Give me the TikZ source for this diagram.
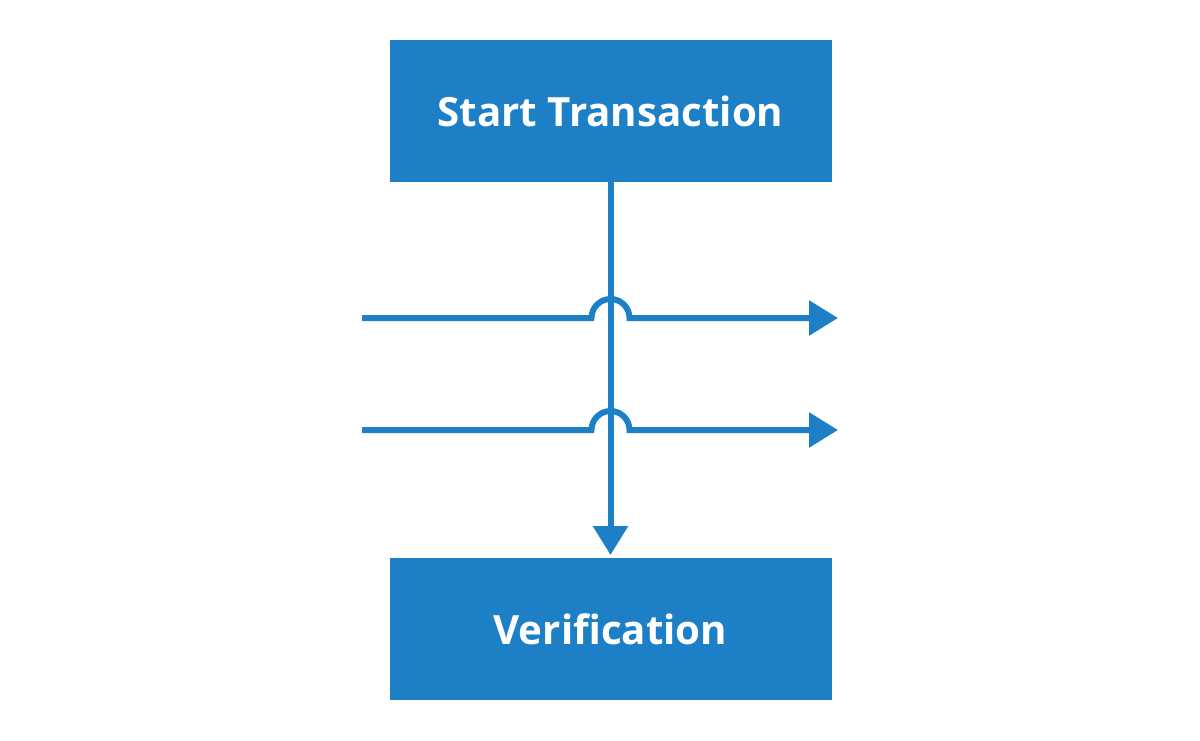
\documentclass[tikz,border=0pt]{standalone}
\usepackage{fontspec}
\setmainfont{Open Sans}
\usetikzlibrary{arrows.meta}
\usetikzlibrary{calc}
\usetikzlibrary{positioning}
\definecolor{flowblue}{HTML}{1D80C6}

\begin{document}
\begin{tikzpicture}[x=0.75pt, y=-0.75pt, >={Triangle[length=21.75pt,width=25.5pt]}]
\tikzset{
  box/.style={fill=flowblue, text=white, font=\bfseries\fontsize{30.2}{36}\selectfont,
    minimum width=331.5pt, minimum height=106.5pt, inner sep=0pt, outer sep=0pt},
  wire/.style={draw=flowblue, line width=4.5pt, ->}
}
\useasboundingbox (0,0) rectangle (1200,740);

%Boxes
\node[box] (start) at (610.5,111) {Start Transaction};
\node[box] (verif) at (610.5,629) {Verification};

%Crossing lines
\foreach \y/\n in {318/1, 430/2} {
  \coordinate (in\n) at (362,\y);
  \coordinate (out\n) at (838,\y);
  \draw[wire] (in\n) -- ($(start.south |- in\n)+(-19,0)$)
    arc[start angle=180, end angle=360, radius=19] -- (out\n);
}

\draw[wire] (start.south) -- ([yshift=2.25pt]verif.north);
\end{tikzpicture}
\end{document}
